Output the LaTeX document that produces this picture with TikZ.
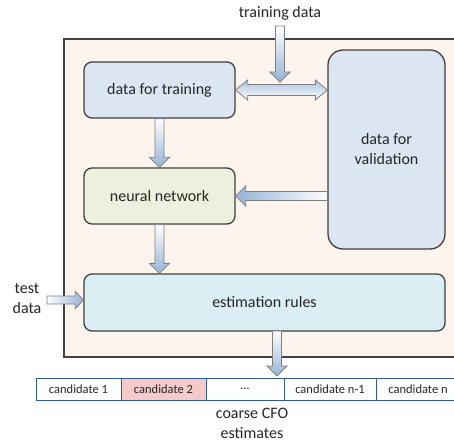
\documentclass[tikz,border=0pt]{standalone}
\usepackage{fontspec}
\setmainfont{Carlito}
\usetikzlibrary{calc}
\definecolor{outerfill}{HTML}{FDF4EE}
\definecolor{bluefill}{HTML}{DCE6F2}
\definecolor{greenfill}{HTML}{EBF1DE}
\definecolor{cyanfill}{HTML}{DAEEF3}
\definecolor{pinkfill}{HTML}{F6CACA}
\definecolor{boxline}{HTML}{404040}
\definecolor{cellline}{HTML}{2E5C9A}
\definecolor{arrowblue}{HTML}{95B3D7}
\definecolor{arrowline}{HTML}{7F7F7F}
\definecolor{txt}{HTML}{262626}
\tikzset{
  blk/.style={draw=boxline, line width=1.3bp, rounded corners=8bp, align=center,
    font=\fontsize{16bp}{20bp}\selectfont, text=txt, inner sep=0pt},
  cell/.style={draw=cellline, line width=0.9bp, minimum height=22bp, inner sep=0pt, outer sep=0pt,
    font=\fontsize{12.5bp}{15bp}\selectfont, text=txt, anchor=west},
  lbl/.style={font=\fontsize{16bp}{20bp}\selectfont, text=txt, align=center, inner sep=0pt},
  barrow/.style={draw=arrowline, line width=0.8bp, line join=miter}
}
\newcommand{\downarr}[2]{%
  \path[barrow, top color=white, bottom color=arrowblue] let \p1=(#1), \p2=(#2) in
   (\x1-4.5bp,\y1) -- (\x1+4.5bp,\y1) -- (\x1+4.5bp,\y2+10bp) -- (\x1+10bp,\y2+10bp)
   -- (\x1,\y2) -- (\x1-10bp,\y2+10bp) -- (\x1-4.5bp,\y2+10bp) -- cycle;}
\newcommand{\leftarr}[2]{%
  \path[barrow, left color=arrowblue, right color=white] let \p1=(#1), \p2=(#2) in
   (\x1,\y1+4.5bp) -- (\x2+10bp,\y1+4.5bp) -- (\x2+10bp,\y1+10bp) -- (\x2,\y1)
   -- (\x2+10bp,\y1-10bp) -- (\x2+10bp,\y1-4.5bp) -- (\x1,\y1-4.5bp) -- cycle;}
\newcommand{\rightarr}[2]{%
  \path[barrow, left color=white, right color=arrowblue] let \p1=(#1), \p2=(#2) in
   (\x1,\y1+4bp) -- (\x2-8bp,\y1+4bp) -- (\x2-8bp,\y1+8.5bp) -- (\x2,\y1)
   -- (\x2-8bp,\y1-8.5bp) -- (\x2-8bp,\y1-4bp) -- (\x1,\y1-4bp) -- cycle;}
\newcommand{\dblarr}[2]{%
  \path[barrow, top color=arrowblue!80, bottom color=white] let \p1=(#1), \p2=(#2) in
   (\x1,\y1) -- (\x1+12bp,\y1+10bp) -- (\x1+12bp,\y1+5.5bp) -- (\x2-12bp,\y1+5.5bp)
   -- (\x2-12bp,\y1+10bp) -- (\x2,\y1) -- (\x2-12bp,\y1-10bp) -- (\x2-12bp,\y1-5.5bp)
   -- (\x1+12bp,\y1-5.5bp) -- (\x1+12bp,\y1-10bp) -- cycle;}
\begin{document}
\begin{tikzpicture}[x=1bp, y=-1bp]
\useasboundingbox (0,0) rectangle (454,444);
\clip (0,0) rectangle (454,444);
% outer frame
\path[draw=boxline, fill=outerfill, line width=1.3bp] (64,39) rectangle (480,357);
% blocks
\node[blk, fill=bluefill, minimum width=151bp, minimum height=56bp] (train) at (159.5,90) {data for training};
\node[blk, fill=greenfill, minimum width=151bp, minimum height=56bp] (nn) at (159.5,196) {neural network};
\node[blk, fill=bluefill, minimum width=117bp, minimum height=199bp, rounded corners=15bp] (valid) at (386.5,149.5) {data for\\validation};
\node[blk, fill=cyanfill, minimum width=361bp, minimum height=57bp] (est) at (264.5,302.5) {estimation rules};
% labels
\node[lbl] (tdata) at (280,13) {training data};
\node[lbl] (test) at (27,298) {test\\data};
\node[lbl] (coarse) at (252,423) {coarse CFO\\estimates};
% candidate row
\node[cell, minimum width=85bp] (c1) at (36,389) {candidate 1};
\node[cell, minimum width=85bp, fill=pinkfill] (c2) at (c1.east) {candidate 2};
\node[cell, minimum width=78bp] (c3) at (c2.east) {…};
\node[cell, minimum width=92bp] (c4) at (c3.east) {candidate n-1};
\node[cell, minimum width=84bp] (c5) at (c4.east) {candidate n};
% connector end points
\coordinate (tdtail) at (280,26);
\coordinate (tdtip) at (280,82);
\coordinate (testtail) at (47,300);
\coordinate (esttail) at (277,331);
\coordinate (candtip) at (277,376);
% arrows
\downarr{tdtail}{tdtip}
\dblarr{train.east}{valid.west |- train.east}
\downarr{train.south}{nn.north}
\leftarr{valid.west |- nn.east}{nn.east}
\downarr{nn.south}{est.north -| nn.south}
\rightarr{testtail}{est.west |- testtail}
\downarr{esttail}{candtip}
\end{tikzpicture}
\end{document}
